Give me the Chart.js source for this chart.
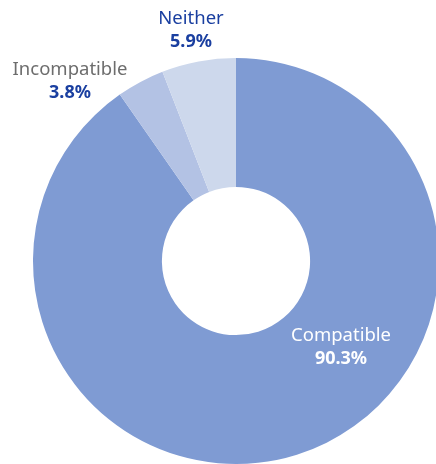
<!DOCTYPE html>
<html>
<head>
<meta charset="utf-8">
<script src="https://cdn.jsdelivr.net/npm/chart.js@4/dist/chart.umd.min.js"></script>
<style>
    html, body { margin: 0; padding: 0; background: #ffffff; }
    #frame { position: relative; width: 436px; height: 464px; overflow: hidden; }
    #wrap { position: absolute; left: 0; top: 0; width: 472px; height: 522px; }
</style>
</head>
<body>
<div id="frame">
    <div id="wrap"><canvas id="pieChart" width="472" height="522"></canvas></div>
</div>
<script>
const categories = ["Compatible", "Incompatible", "Neither"];
const shares = [90.3, 3.8, 5.9];
const sliceColors = ["#7f9bd3", "#b3c2e4", "#cdd8ec"];
// label block centre, as offset from the chart centre (px)
const labelOffsets = [[105, 86], [-166, -180], [-45, -231]];
const nameColors = ["#ffffff", "#6d6d6d", "#1a3fa0"];
const valueColors = ["#ffffff", "#1a3fa0", "#1a3fa0"];

const sliceLabels = {
    id: "sliceLabels",
    afterDraw(chart){
        const ctx = chart.ctx;
        const arc = chart.getDatasetMeta(0).data[0];
        const cx = arc.x;
        const cy = arc.y;
        ctx.save();
        ctx.textAlign = "center";
        ctx.textBaseline = "middle";
        categories.forEach((name, i) => {
            const x = cx + labelOffsets[i][0];
            const y = cy + labelOffsets[i][1];
            ctx.font = "18.5px 'Noto Sans'";
            ctx.fillStyle = nameColors[i];
            ctx.fillText(name, x, y - 11);
            ctx.font = "bold 18px 'Noto Sans'";
            ctx.fillStyle = valueColors[i];
            ctx.fillText(shares[i].toFixed(1) + "%", x, y + 12);
        });
        ctx.restore();
    }
};

new Chart(document.getElementById("pieChart"), {
    type: "doughnut",
    data: {
        labels: categories,
        datasets: [{
            data: shares,
            backgroundColor: sliceColors,
            borderWidth: 0
        }]
    },
    options: {
        responsive: false,
        animation: false,
        cutout: "36.5%",
        layout: { padding: { left: 33, right: 33, top: 58, bottom: 58 } },
        plugins: {
            legend: { display: false },
            tooltip: { enabled: false }
        }
    },
    plugins: [sliceLabels]
});
</script>
</body>
</html>
